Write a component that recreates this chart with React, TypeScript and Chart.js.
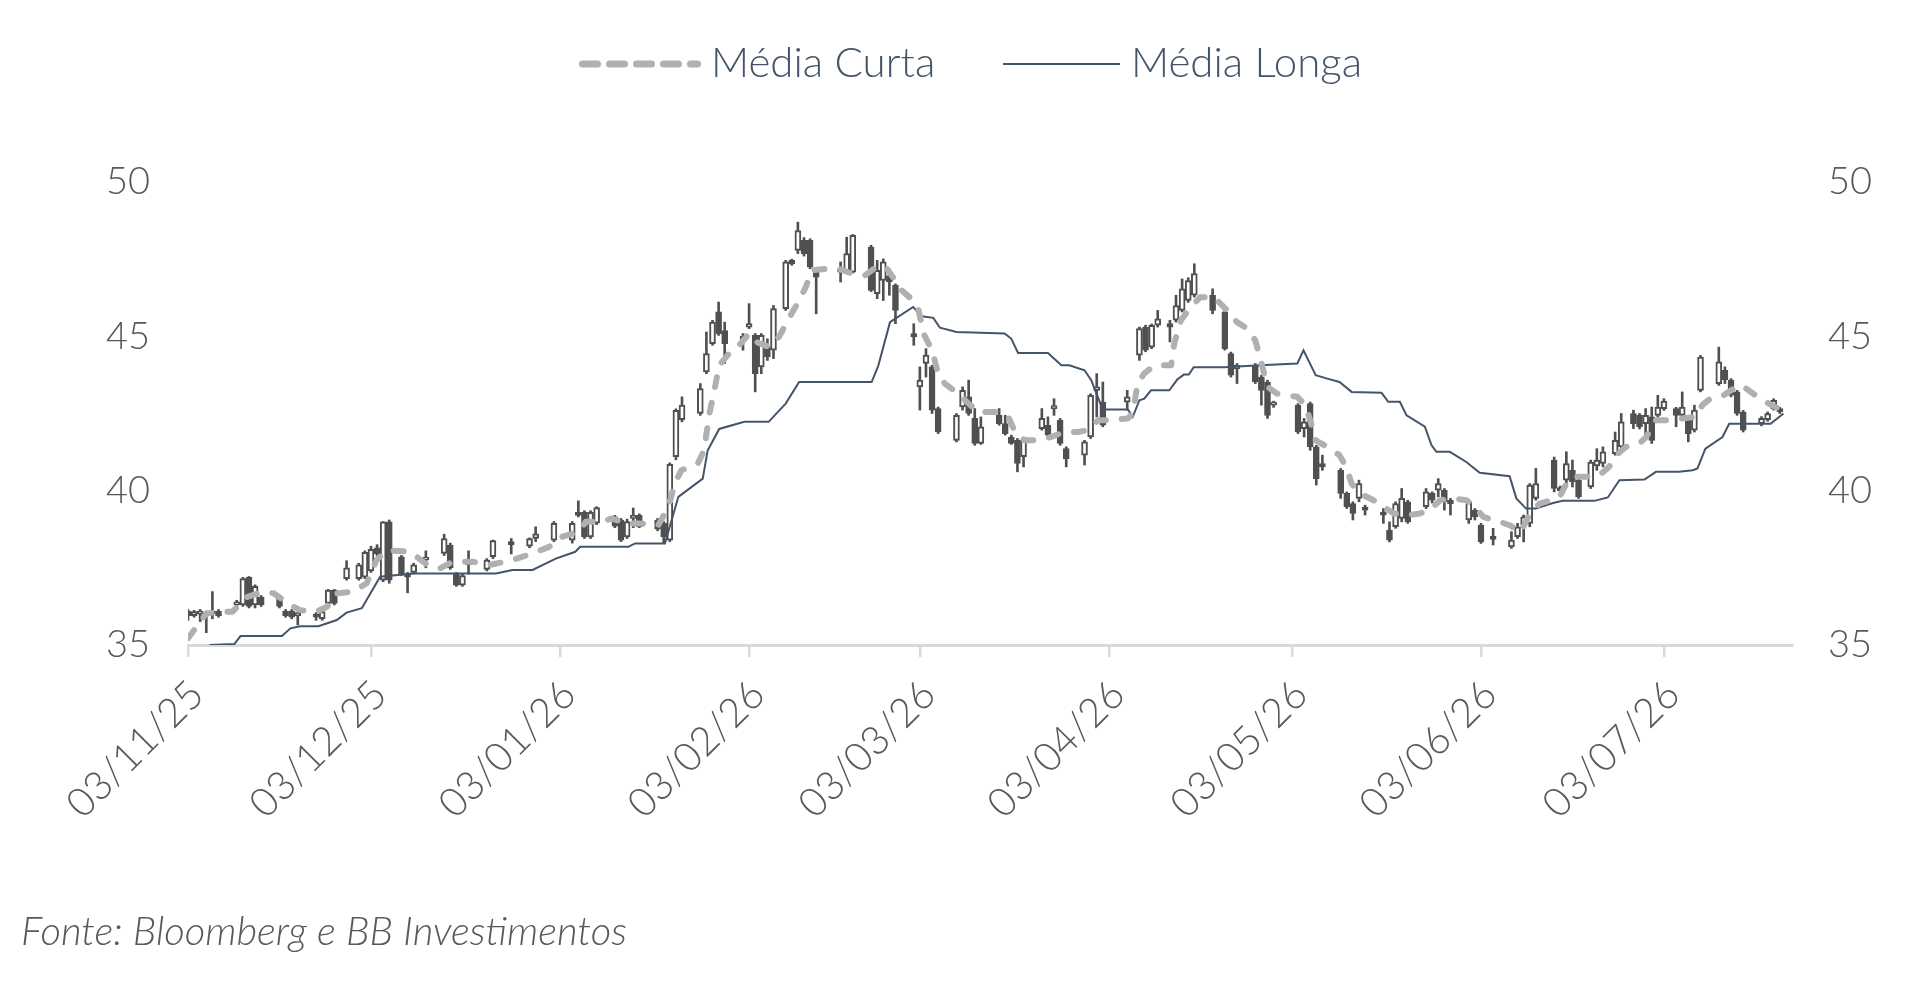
import React, { useEffect, useRef } from 'react';
import { Chart, registerables } from 'chart.js';

Chart.register(...registerables);

// x = dias corridos desde 03/11/25
const tickDays = [0, 30, 61, 92, 120, 151, 181, 212, 242];
const tickLabels = ['03/11/25', '03/12/25', '03/01/26', '03/02/26', '03/03/26', '03/04/26', '03/05/26', '03/06/26', '03/07/26'];

const candleDay = [
  0, 1, 2, 3, 4, 5, 8, 9, 10, 11,
  12, 15, 16, 17, 18, 21, 22, 23, 24, 26,
  28, 29, 30, 31, 32, 33, 35, 36, 37, 39,
  42, 43, 44, 45, 46, 49, 50, 53, 56, 57,
  60, 63, 64, 65, 66, 67, 70, 71, 72, 73,
  74, 77, 78, 79, 80, 81, 84, 85, 86, 87,
  88, 91, 92, 93, 94, 95, 96, 98, 99, 100,
  101, 102, 103, 107, 108, 109, 112, 113, 114, 115,
  116, 119, 120, 121, 122, 123, 126, 127, 128, 129,
  130, 133, 134, 135, 136, 137, 140, 141, 142, 143,
  144, 147, 148, 149, 150, 154, 156, 157, 158, 159,
  161, 162, 163, 164, 165, 168, 170, 171, 172, 175,
  176, 177, 178, 182, 183, 184, 185, 186, 189, 190,
  191, 192, 193, 196, 197, 198, 199, 200, 203, 204,
  205, 206, 207, 210, 211, 212, 214, 217, 218, 219,
  220, 221, 224, 225, 226, 227, 228, 230, 231, 232,
  234, 235, 237, 238, 239, 240, 241, 242, 244, 245,
  246, 247, 248, 251, 252, 253, 254, 255, 258, 259,
  260, 261,
];

const candleOpen = [
  36.1, 35.95, 36.0, 36.05, 36.0, 36.1, 36.3, 36.3, 37.19, 36.3,
  36.55, 36.55, 36.1, 36.1, 35.95, 36.0, 35.85, 36.35, 36.78, 37.15,
  37.15, 37.2, 37.4, 38.15, 37.1, 38.99, 37.86, 37.3, 37.35, 37.75,
  37.97, 38.24, 37.3, 36.94, 37.6, 37.45, 37.86, 38.3, 38.2, 38.45,
  38.4, 38.4, 39.3, 39.3, 38.5, 38.95, 39.15, 39.05, 38.5, 39.1,
  39.2, 39.05, 38.95, 38.4, 41.1, 42.3, 42.5, 43.85, 44.76, 45.79,
  45.19, 44.9, 45.3, 45.03, 44.01, 44.65, 44.55, 45.9, 47.46, 47.78,
  48.11, 48.11, 47.14, 47.08, 47.08, 47.08, 47.89, 46.38, 46.81, 46.97,
  46.65, 45.09, 43.36, 44.12, 44.01, 42.66, 41.63, 42.71, 43.04, 42.34,
  41.53, 42.44, 42.17, 41.74, 41.63, 41.1, 42.01, 42.12, 42.66, 42.28,
  41.36, 41.15, 41.74, 43.25, 42.87, 42.87, 44.39, 45.3, 44.65, 45.36,
  45.41, 45.52, 45.84, 46.16, 46.33, 46.33, 45.79, 44.44, 43.95, 44.06,
  43.68, 43.52, 42.77, 42.77, 42.01, 42.82, 41.42, 40.88, 40.66, 39.91,
  39.58, 39.75, 39.42, 39.31, 38.72, 38.83, 39.1, 39.64, 39.48, 39.91,
  40.02, 40.02, 39.69, 39.05, 39.37, 38.88, 38.5, 38.18, 38.51, 38.88,
  38.94, 39.75, 40.99, 40.07, 40.34, 40.66, 40.34, 40.12, 40.8, 40.88,
  41.2, 41.42, 42.5, 42.44, 42.17, 42.39, 42.44, 42.66, 42.66, 42.44,
  42.39, 41.96, 43.25, 43.47, 43.9, 43.58, 43.2, 42.55, 42.17, 42.3,
  42.66, 42.66,
];

const candleHigh = [
  36.15, 36.12, 36.15, 36.1, 36.73, 36.15, 36.45, 37.19, 37.22, 36.95,
  36.6, 36.6, 36.15, 36.15, 36.05, 36.05, 36.12, 36.8, 36.8, 37.73,
  37.65, 38.05, 38.2, 38.25, 39.0, 39.05, 37.9, 37.35, 37.65, 38.05,
  38.59, 38.3, 37.35, 37.3, 38.05, 37.8, 38.4, 38.45, 38.47, 38.83,
  39.0, 39.0, 39.67, 39.35, 39.35, 39.48, 39.2, 39.1, 39.08, 39.44,
  39.25, 39.1, 39.0, 40.9, 42.65, 43.04, 43.47, 45.14, 45.52, 46.11,
  45.46, 45.09, 46.06, 45.09, 45.09, 44.92, 46.0, 47.46, 47.5, 48.7,
  48.2, 48.16, 47.19, 47.41, 48.21, 48.3, 47.95, 47.46, 47.51, 47.19,
  46.7, 45.41, 44.01, 44.6, 44.06, 42.71, 42.5, 43.36, 43.58, 42.66,
  42.39, 42.66, 42.44, 41.8, 41.69, 41.69, 42.66, 42.39, 42.98, 42.34,
  41.42, 41.63, 43.14, 43.79, 43.52, 43.25, 45.3, 45.36, 45.4, 45.84,
  45.52, 46.33, 46.86, 46.9, 47.35, 46.54, 45.84, 44.49, 44.12, 44.12,
  43.74, 43.58, 42.9, 42.82, 42.34, 42.87, 41.47, 41.15, 40.72, 39.96,
  39.64, 40.34, 39.53, 39.42, 38.99, 39.64, 40.07, 39.69, 40.07, 39.96,
  40.39, 40.07, 39.75, 39.69, 39.42, 38.94, 38.78, 38.67, 38.94, 39.21,
  40.23, 40.72, 41.09, 40.15, 41.26, 40.99, 40.39, 40.99, 41.36, 41.42,
  41.9, 42.5, 42.61, 42.5, 42.66, 42.71, 43.09, 42.98, 42.7, 43.2,
  42.44, 42.77, 44.38, 44.65, 44.01, 43.63, 43.25, 42.6, 42.4, 42.55,
  42.98, 42.7,
];

const candleLow = [
  35.8, 35.9, 35.76, 35.4, 35.85, 35.9, 36.25, 36.25, 36.2, 36.2,
  36.25, 36.2, 35.9, 35.85, 35.65, 35.8, 35.8, 36.3, 36.3, 37.1,
  37.1, 37.15, 37.35, 37.9, 37.05, 37.0, 37.25, 36.69, 37.3, 37.5,
  37.9, 37.45, 36.9, 36.9, 37.3, 37.4, 37.8, 37.95, 38.15, 38.35,
  38.35, 38.3, 39.15, 38.45, 38.45, 38.9, 38.8, 38.35, 38.45, 38.8,
  38.8, 38.7, 38.3, 38.35, 41.0, 42.23, 42.44, 43.79, 44.71, 45.03,
  44.12, 44.55, 45.25, 43.2, 43.79, 44.22, 44.28, 45.84, 47.3, 47.68,
  47.6, 47.19, 45.73, 46.76, 47.03, 47.05, 46.45, 46.22, 46.16, 46.33,
  45.41, 44.71, 42.61, 43.68, 42.5, 41.85, 41.58, 42.61, 42.44, 41.47,
  41.5, 42.12, 41.8, 41.5, 40.61, 40.77, 41.96, 41.74, 42.44, 41.47,
  40.77, 40.83, 41.69, 42.39, 42.07, 42.61, 44.22, 44.5, 44.6, 45.3,
  44.82, 45.46, 45.79, 46.1, 46.27, 45.73, 44.55, 43.68, 43.47, 43.47,
  42.77, 42.34, 42.7, 41.85, 41.74, 41.31, 40.18, 40.66, 39.75, 39.42,
  39.05, 39.64, 39.21, 38.94, 38.34, 38.78, 38.99, 38.94, 39.42, 39.6,
  39.8, 39.37, 39.21, 38.94, 39.05, 38.29, 38.24, 38.13, 38.45, 38.34,
  38.83, 39.69, 39.96, 39.9, 40.23, 40.12, 39.75, 40.07, 40.66, 40.77,
  41.15, 41.36, 42.01, 42.0, 41.74, 41.53, 42.39, 42.6, 42.07, 42.28,
  41.58, 41.9, 43.2, 43.41, 43.47, 43.04, 42.44, 41.9, 42.1, 42.25,
  42.61, 42.5,
];

const candleClose = [
  35.95, 36.08, 36.1, 35.95, 36.1, 35.95, 36.4, 37.15, 36.25, 36.9,
  36.3, 36.25, 35.95, 35.9, 36.0, 35.9, 36.08, 36.78, 36.35, 37.5,
  37.6, 38.0, 38.1, 37.95, 38.99, 37.1, 37.3, 37.2, 37.6, 37.85,
  38.45, 37.5, 36.94, 37.25, 37.65, 37.75, 38.38, 38.25, 38.45, 38.6,
  38.94, 38.94, 39.2, 38.5, 39.3, 39.45, 38.85, 38.4, 39.0, 39.2,
  38.83, 38.75, 38.5, 40.85, 42.6, 42.77, 43.31, 44.44, 45.46, 45.09,
  44.76, 45.0, 45.41, 43.79, 45.03, 44.33, 45.9, 47.41, 47.35, 48.43,
  47.68, 47.24, 46.92, 47.19, 47.68, 48.27, 46.49, 47.14, 47.41, 46.76,
  45.84, 44.98, 43.58, 44.39, 42.61, 41.9, 42.44, 43.25, 42.5, 41.53,
  42.07, 42.17, 41.85, 41.53, 40.88, 41.63, 42.34, 41.8, 42.71, 41.53,
  41.04, 41.58, 43.09, 43.36, 42.12, 43.04, 45.25, 44.55, 45.36, 45.57,
  45.3, 46.0, 46.54, 46.81, 47.03, 45.84, 44.6, 43.74, 44.06, 43.52,
  43.25, 42.44, 42.87, 41.9, 42.23, 41.42, 40.39, 40.77, 39.91, 39.48,
  39.26, 40.23, 39.37, 39.21, 38.4, 39.58, 39.75, 38.99, 39.96, 39.69,
  40.23, 39.64, 39.58, 39.64, 39.15, 38.34, 38.42, 38.4, 38.83, 39.15,
  40.18, 40.23, 40.07, 40.0, 40.88, 40.29, 39.8, 40.93, 40.99, 41.26,
  41.63, 42.23, 42.17, 42.07, 42.44, 41.63, 42.71, 42.9, 42.44, 42.71,
  41.85, 42.61, 44.33, 44.17, 43.6, 43.09, 42.5, 41.96, 42.34, 42.5,
  42.93, 42.55,
];

// Média Curta
const curtaDays = [
  0, 3, 5.4, 7.3, 9.7, 12.4, 14.1, 16.8, 18.4, 21.1, 22.8, 24.4, 27.1, 29.3, 30.9, 32.6,
  36.4, 39.3, 41.3, 43.4, 46.7, 49.4, 53.2, 56.5, 59.2, 61.4, 64.1, 65.2, 67.9, 69.5,
  71.7, 73.9, 77.1, 78.8, 79.8, 80.9, 83.6, 84.6, 85.5, 86.3, 87.1, 88.7, 90.6, 92,
  93.4, 95.3, 96.9, 98.5, 100.2, 101.3, 102.3, 105, 106.7, 108.9, 111, 113.2, 114.6,
  116, 117, 118.7, 119.8, 120.6, 122, 123, 124.1, 126.3, 128, 129.5, 132.8, 134.5,
  135.6, 137.2, 139.4, 141.5, 143.7, 145.9, 147.5, 149.2, 150.8, 154.1, 154.9, 155.7,
  156.8, 158.5, 161.2, 161.7, 162.8, 164.4, 166, 168.2, 170.1, 172, 173.7, 175, 175.6,
  176.3, 177, 178.6, 181.9, 183.2, 184, 184.9, 186.8, 188.8, 189.9, 190.8, 192.2,
  194.4, 196, 197.7, 199.8, 202, 203.9, 205.3, 207.5, 209.6, 211, 212.4, 215.1, 216.7,
  218.6, 220, 221.6, 223.5, 224.9, 226, 227.1, 229.2, 231.4, 233, 234.2, 235.8, 238,
  239.1, 240.7, 242.9, 245, 247.2, 248.3, 249.7, 251.8, 253.8, 254.8, 257, 259.2,
  260.8, 261.6,
];
const curtaValues = [
  35.22, 36.02, 36.08, 36.08, 36.56, 36.73, 36.67, 36.29, 36.13, 36.08, 36.24, 36.67, 36.73, 37.0, 37.75, 38.07,
  38.02, 37.59, 37.48, 37.7, 37.7, 37.59, 37.75, 37.97, 38.18, 38.51, 38.67, 38.99, 38.99, 39.1,
  38.94, 38.94, 38.88, 39.48, 40.23, 40.66, 40.88, 41.3, 42.5, 43.25, 44.06, 44.44, 44.76, 45.09,
  44.8, 44.65, 44.98, 45.57, 46.16, 46.6, 47.14, 47.19, 47.19, 47.03, 46.97, 47.3, 47.19,
  46.8, 46.49, 46.2, 45.84, 45.09, 44.55, 43.79, 43.47, 43.14, 42.82, 42.55, 42.55, 42.4,
  41.9, 41.63, 41.63, 41.74, 41.9, 41.9, 41.96, 42.28, 42.28, 42.34, 42.5, 43.47,
  43.8, 44.06, 44.06, 44.76, 45.52, 45.95, 46.27, 46.27, 45.9, 45.46, 45.25, 44.87, 44.44,
  43.9, 43.36, 43.14, 43.04, 42.77, 42.28, 41.63, 41.42, 41.15, 40.77, 40.23, 39.9,
  39.69, 39.48, 39.26, 39.2, 39.26, 39.42, 39.69, 39.75, 39.69, 39.48, 39.15, 38.99, 38.88,
  38.67, 39.26, 39.58, 39.69, 39.8, 40.23, 40.45, 40.45, 40.5, 40.77, 41.15, 41.42, 41.53,
  41.74, 42.28, 42.28, 42.34, 42.39, 42.77, 43.0, 43.09, 43.36, 43.41, 43.09, 42.82,
  42.66, 42.55,
];

// Média Longa
const longaDays = [
  3.5, 7.6, 8.6, 15.4, 16.8, 18.4, 21.4, 24.4, 26, 28.5, 31.5, 36.9, 50.5, 53.2, 56.5,
  60.3, 63.5, 64.3, 72.2, 73.3, 78.2, 80.4, 84.4, 85.2, 87.1, 91.2, 95.2, 98, 100.2,
  112.1, 113.2, 115.1, 118.9, 120.3, 122.2, 123.3, 126, 133.9, 135, 136.1, 141, 143.2,
  144.5, 147, 148.1, 149.7, 150, 154.1, 154.9, 156, 156.8, 157.9, 160.9, 162.2, 163.3,
  164.1, 164.9, 169.9, 175.8, 181.9, 182.9, 184.9, 186.8, 188.8, 190.8, 195.7, 196.8,
  198.7, 199.8, 202.8, 203.9, 204.7, 206.9, 209.6, 211.8, 216.7, 217.8, 219.4, 221,
  223.8, 225.4, 230.6, 232.8, 234.7, 238.8, 240.7, 244.5, 246.7, 247.5, 248.8, 251.6,
  252.7, 259.5, 261.6,
];
const longaValues = [
  35.0, 35.03, 35.29, 35.29, 35.54, 35.61, 35.61, 35.81, 36.05, 36.19, 37.21, 37.32, 37.32, 37.43, 37.43,
  37.8, 38.02, 38.18, 38.18, 38.29, 38.29, 39.8, 40.39, 41.3, 42.0, 42.23, 42.23, 42.82, 43.52,
  43.52, 44.06, 45.46, 45.95, 45.65, 45.6, 45.28, 45.14, 45.09, 44.92, 44.46, 44.46, 44.06,
  44.06, 43.9, 43.58, 42.77, 42.63, 42.63, 42.39, 42.93, 42.98, 43.25, 43.25, 43.6, 43.76,
  43.76, 44.0, 44.0, 44.06, 44.12, 44.55, 43.74, 43.63, 43.52, 43.2, 43.17, 42.88,
  42.88, 42.44, 42.07, 41.47, 41.26, 41.26, 40.93, 40.58, 40.47, 39.75, 39.42, 39.42,
  39.6, 39.67, 39.67, 39.78, 40.34, 40.36, 40.61, 40.61, 40.66, 40.72, 41.36, 41.74,
  42.17, 42.17, 42.5,
];

const candleColor = '#505050';
const curtaColor = '#b0b0b0';
const longaColor = '#44546a';
const labelColor = '#595959';
const axisColor = '#d9d9d9';

const W = 1908;
const H = 1000;

export default function App() {
  const canvasRef = useRef<HTMLCanvasElement>(null);

  useEffect(() => {
    if (!canvasRef.current) return;
    const ctx = canvasRef.current.getContext('2d')!;

    const wicks = candleDay.map((d, i) => ({ x: d, y: [candleLow[i], candleHigh[i]] }));
    const bodies = candleDay.map((d, i) => ({
      x: d,
      y: [Math.min(candleOpen[i], candleClose[i]), Math.max(candleOpen[i], candleClose[i])],
    }));
    const bodyFill = candleDay.map((_, i) => (candleClose[i] >= candleOpen[i] ? '#ffffff' : candleColor));

    const yFont = { family: 'Lato', size: 38, weight: '300' as const };
    const xFont = { family: 'Lato', size: 40, weight: '300' as const };

    const chart = new Chart(ctx, {
      type: 'line',
      data: {
        datasets: [
          {
            type: 'line',
            label: 'Média Curta',
            data: curtaDays.map((d, i) => ({ x: d, y: curtaValues[i] })),
            borderColor: curtaColor,
            borderWidth: 6,
            borderDash: [10, 16],
            borderCapStyle: 'round',
            borderJoinStyle: 'round',
            pointRadius: 0,
            tension: 0,
            order: 0,
          },
          {
            type: 'line',
            label: 'Média Longa',
            data: longaDays.map((d, i) => ({ x: d, y: longaValues[i] })),
            borderColor: longaColor,
            borderWidth: 2,
            pointRadius: 0,
            tension: 0,
            order: 0,
          },
          {
            type: 'bar',
            label: 'corpo',
            data: bodies as any,
            backgroundColor: bodyFill,
            borderColor: candleColor,
            borderWidth: 2,
            borderSkipped: false,
            barThickness: 6,
            minBarLength: 3,
            grouped: false,
            order: 1,
          },
          {
            type: 'bar',
            label: 'pavio',
            data: wicks as any,
            backgroundColor: candleColor,
            borderWidth: 0,
            barThickness: 2,
            grouped: false,
            order: 2,
          },
        ],
      },
      options: {
        responsive: false,
        animation: false,
        devicePixelRatio: 1,
        layout: { padding: { top: 182, left: 0, right: 0, bottom: 0 } },
        plugins: {
          legend: { display: false },
          tooltip: { enabled: false },
        },
        scales: {
          x: {
            type: 'linear',
            min: 0,
            max: 263,
            offset: false,
            afterFit: (s: any) => { s.height = 355; },
            afterBuildTicks: (s: any) => { s.ticks = tickDays.map((v) => ({ value: v })); },
            ticks: {
              autoSkip: false,
              maxRotation: 45,
              minRotation: 45,
              padding: 14,
              labelOffset: 9,
              color: labelColor,
              font: xFont,
              callback: (v: any) => tickLabels[tickDays.indexOf(Number(v))] ?? '',
            },
            grid: {
              display: true,
              offset: false,
              drawOnChartArea: false,
              drawTicks: true,
              tickLength: 12,
              color: axisColor,
              lineWidth: 2.5,
            },
            border: { display: true, color: axisColor, width: 3 },
          },
          y: {
            type: 'linear',
            position: 'left',
            min: 35,
            max: 50,
            afterFit: (s: any) => { s.width = 188; },
            ticks: { stepSize: 5, padding: 38, color: labelColor, font: yFont },
            grid: { display: false, drawTicks: false },
            border: { display: false },
          },
          y2: {
            type: 'linear',
            position: 'right',
            min: 35,
            max: 50,
            afterFit: (s: any) => { s.width = 116; },
            ticks: { stepSize: 5, padding: 36, color: labelColor, font: yFont },
            grid: { display: false, drawTicks: false },
            border: { display: false },
          },
        },
      },
    });

    return () => chart.destroy();
  }, []);

  const legendText: React.CSSProperties = {
    position: 'absolute',
    top: 36,
    fontFamily: 'Lato',
    fontWeight: 300,
    fontSize: 42,
    lineHeight: 1.2,
    color: longaColor,
    whiteSpace: 'nowrap',
  };

  return (
    <div style={{ position: 'absolute', left: 0, top: 0, width: W, height: H, background: '#ffffff', overflow: 'hidden' }}>
      <canvas ref={canvasRef} width={W} height={H} style={{ position: 'absolute', left: 0, top: 0, width: W, height: H }} />
      <svg style={{ position: 'absolute', left: 0, top: 0 }} width={W} height={120}>
        <line x1={582.5} y1={64} x2={697.5} y2={64} stroke={curtaColor} strokeWidth={7} strokeDasharray="15 12" strokeLinecap="round" />
        <line x1={1003} y1={64} x2={1120} y2={64} stroke={longaColor} strokeWidth={2} />
      </svg>
      <div style={{ ...legendText, left: 711 }}>Média Curta</div>
      <div style={{ ...legendText, left: 1131 }}>Média Longa</div>
      <div
        style={{
          position: 'absolute',
          left: 21,
          top: 906,
          fontFamily: 'Lato',
          fontWeight: 300,
          fontStyle: 'italic',
          fontSize: 40,
          lineHeight: 1.2,
          color: labelColor,
          whiteSpace: 'nowrap',
        }}
      >
        Fonte: Bloomberg e BB Investimentos
      </div>
    </div>
  );
}
